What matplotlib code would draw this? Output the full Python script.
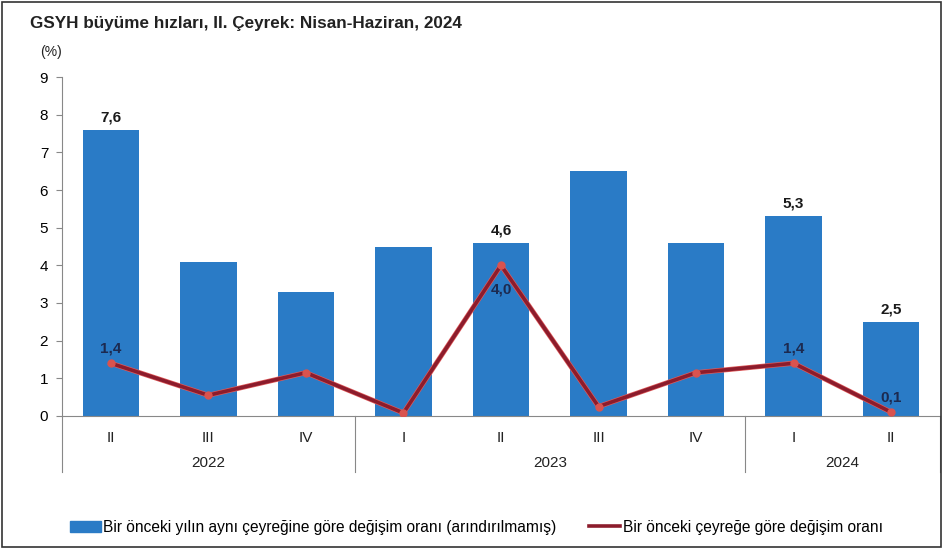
import matplotlib
matplotlib.use("Agg")
import matplotlib.pyplot as plt
import matplotlib.patches as patches
import matplotlib.patheffects as pe

plt.rcParams['font.family'] = ['Liberation Sans', 'DejaVu Sans']

# data
quarters = ["II", "III", "IV", "I", "II", "III", "IV", "I", "II"]
years = ["2022", "2023", "2024"]
year_counts = [3, 4, 2]
yoy = [7.6, 4.1, 3.3, 4.5, 4.6, 6.5, 4.6, 5.3, 2.5]
qoq = [1.4, 0.55, 1.15, 0.08, 4.0, 0.25, 1.15, 1.4, 0.1]
bar_labels = {0: "7,6", 4: "4,6", 7: "5,3", 8: "2,5"}
line_labels = {0: ("1,4", 1), 4: ("4,0", -1), 7: ("1,4", 1), 8: ("0,1", 1)}

bar_color = "#2a7bc6"
line_color = "#8c1c2c"
fs = 11

fig = plt.figure(figsize=(9.44, 5.49), dpi=100)
ax = fig.add_axes([0.0657, 0.2423, 0.93, 0.6174])

x = list(range(len(yoy)))
ax.bar(x, yoy, width=0.58, color=bar_color, zorder=2)
ax.plot(x, qoq, color=line_color, lw=2.6, zorder=3,
        path_effects=[pe.Stroke(linewidth=3.6, foreground="#e05a5a"), pe.Normal()])
ax.plot(x, qoq, ls="none", marker="o", ms=5, color="#d9534f", zorder=4)

for i, s in bar_labels.items():
    ax.text(i, yoy[i] + 0.15, s, ha="center", va="bottom", fontsize=fs,
            fontweight="bold", color="#1a1a1a")
for i, (s, d) in line_labels.items():
    off = 0.2 if d > 0 else -0.45
    ax.text(i, qoq[i] + off, s, ha="center", va="bottom" if d > 0 else "top",
            fontsize=fs, fontweight="bold", color="#1c2a50")

ax.set_xlim(-0.5, len(yoy) - 0.5)
ax.set_ylim(0, 9)
ax.set_yticks(range(10))
ax.tick_params(axis="y", labelsize=fs, length=4, color="#888888", pad=6)
ax.set_xticks([])
for sp in ["top", "right"]:
    ax.spines[sp].set_visible(False)
ax.spines["left"].set_color("#888888")
ax.spines["bottom"].set_color("#888888")

# quarter and year labels under the axis
for i, q in enumerate(quarters):
    ax.text(i, -0.065, q, transform=ax.get_xaxis_transform(), ha="center",
            va="center", fontsize=fs, color="#222222")
start = 0
bounds = [-0.5]
for yr, n in zip(years, year_counts):
    ax.text(start + (n - 1) / 2, -0.14, yr, transform=ax.get_xaxis_transform(),
            ha="center", va="center", fontsize=fs, color="#222222")
    start += n
    bounds.append(start - 0.5)
for b in bounds:
    ax.plot([b, b], [0, -0.165], transform=ax.get_xaxis_transform(),
            color="#888888", lw=0.8, clip_on=False)

fig.text(0.0318, 0.957, "GSYH büyüme hızları, II. Çeyrek: Nisan-Haziran, 2024",
         fontsize=12.3, fontweight="bold", va="center", color="#222222")
fig.text(0.042, 0.905, "(%)", fontsize=10, va="center", color="#222222")

handles = [patches.Patch(color=bar_color),
           plt.Line2D([], [], color=line_color, lw=2.6)]
labels = ["Bir önceki yılın aynı çeyreğine göre değişim oranı (arındırılmamış)",
          "Bir önceki çeyreğe göre değişim oranı"]
fig.legend(handles, labels, loc="center left", bbox_to_anchor=(0.074, 0.04),
           ncol=2, frameon=False, fontsize=11.2, handlelength=2.0,
           handletextpad=0.15, columnspacing=2.1, borderpad=0,
           borderaxespad=0)

fig.patches.append(patches.Rectangle((0.002, 0.004), 0.995, 0.992,
                                     transform=fig.transFigure, fill=False,
                                     edgecolor="#333333", lw=1.2))

fig.savefig("out.png", dpi=100)
